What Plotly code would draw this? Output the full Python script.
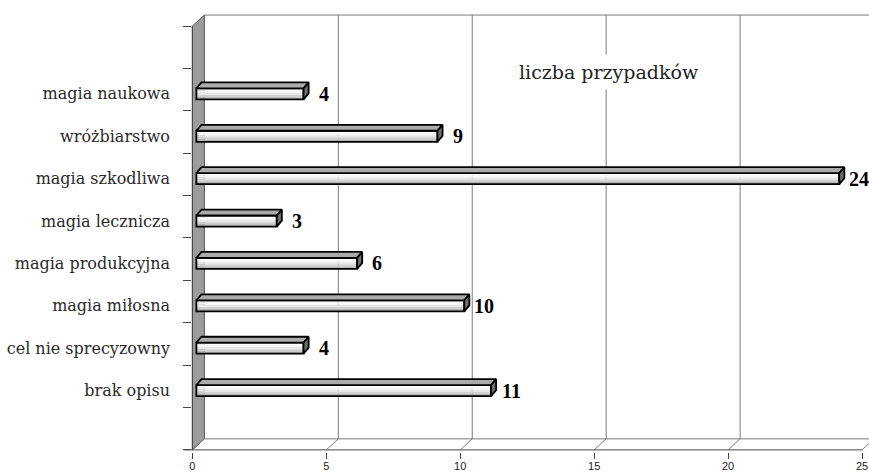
import plotly.graph_objects as go

# Categories listed bottom-to-top, with the number of cases in each
categories = [
    "brak opisu",
    "cel nie sprecyzowny",
    "magia miłosna",
    "magia produkcyjna",
    "magia lecznicza",
    "magia szkodliwa",
    "wróżbiarstwo",
    "magia naukowa",
]
values = [11, 4, 10, 6, 3, 24, 9, 4]
x_ticks = [0, 5, 10, 15, 20, 25]
series_name = "liczba przypadków"

# 3D geometry (data units)
WALL_DX, WALL_DY = 0.448, 0.26     # depth of the wall / floor
BAR_DX, BAR_DY = 0.19, 0.14        # depth of each bar
BAR_BASE = 0.15                    # bars start slightly inside the left wall
HALF_H = 0.13                      # half height of a bar's front face
N_SLOTS = 10
X_MIN = -0.35

slot_centers = [i + 1.5 for i in range(len(categories))]
face_centers = [c - 0.1 for c in slot_centers]

fig = go.Figure()

# front face: stacked strips for a vertical shading
strip_colors = ["#ffffff", "#f6f6f6", "#e6e6e6", "#d0d0d0", "#b4b4b4"]
n = len(strip_colors)
sh = 2 * HALF_H / n
for k, col in enumerate(strip_colors):
    fig.add_trace(go.Bar(
        y=face_centers, x=values, base=BAR_BASE, orientation="h",
        width=sh, offset=HALF_H - (k + 1) * sh,
        marker=dict(color=col, line=dict(width=0)),
        hoverinfo="skip", showlegend=False,
    ))
# front face outline
fig.add_trace(go.Bar(
    y=face_centers, x=values, base=BAR_BASE, orientation="h",
    width=2 * HALF_H, offset=-HALF_H,
    marker=dict(color="rgba(0,0,0,0)", line=dict(color="#000", width=1.8)),
    hoverinfo="skip", showlegend=False,
))

# top and end faces of each bar
top_x, top_y, end_x, end_y = [], [], [], []
for fc, v in zip(face_centers, values):
    x0, x1 = BAR_BASE, BAR_BASE + v
    yb, yt = fc - HALF_H, fc + HALF_H
    top_x += [x0, x1, x1 + BAR_DX, x0 + BAR_DX, x0, None]
    top_y += [yt, yt, yt + BAR_DY, yt + BAR_DY, yt, None]
    end_x += [x1, x1 + BAR_DX, x1 + BAR_DX, x1, x1, None]
    end_y += [yb, yb + BAR_DY, yt + BAR_DY, yt, yb, None]

fig.add_trace(go.Scatter(
    x=top_x, y=top_y, mode="lines", fill="toself", fillcolor="#ababab",
    line=dict(color="#000", width=1.8), hoverinfo="skip", showlegend=False,
))
fig.add_trace(go.Scatter(
    x=end_x, y=end_y, mode="lines", fill="toself", fillcolor="#6e6e6e",
    line=dict(color="#000", width=1.8), hoverinfo="skip", showlegend=False,
))

# carrier for the category label axis
fig.add_trace(go.Scatter(x=[0], y=[1], yaxis="y2", mode="markers",
                         marker=dict(opacity=0), hoverinfo="skip", showlegend=False))

# walls, floor and grid
shapes = []
grid = dict(color="#7a7a7a", width=1)
x_right = x_ticks[-1] + 1
# left wall
shapes.append(dict(
    type="path", xref="x", yref="y", layer="below",
    path=f"M 0 0 L {WALL_DX} {WALL_DY} L {WALL_DX} {N_SLOTS + WALL_DY} L 0 {N_SLOTS} Z",
    fillcolor="#9c9c9c", line=dict(color="#555", width=1),
))
# back wall top and floor back edge
shapes.append(dict(type="line", xref="x", yref="y", layer="below",
                   x0=WALL_DX, x1=x_right, y0=N_SLOTS + WALL_DY, y1=N_SLOTS + WALL_DY, line=grid))
shapes.append(dict(type="line", xref="x", yref="y", layer="below",
                   x0=WALL_DX, x1=x_right, y0=WALL_DY, y1=WALL_DY, line=grid))
# floor front edge
shapes.append(dict(type="line", xref="x", yref="y", layer="below",
                   x0=X_MIN + 0.02, x1=x_ticks[-1], y0=0, y1=0, line=dict(color="#444", width=1)))
for t in x_ticks:
    # back-wall gridline
    if t > 0:
        shapes.append(dict(type="line", xref="x", yref="y", layer="below",
                           x0=t + WALL_DX, x1=t + WALL_DX, y0=WALL_DY, y1=N_SLOTS + WALL_DY,
                           line=grid))
    # floor diagonal
    shapes.append(dict(type="line", xref="x", yref="y", layer="below",
                       x0=t, x1=t + WALL_DX, y0=0, y1=WALL_DY, line=grid))
# front vertical axis line
shapes.append(dict(type="line", xref="x", yref="y", layer="below",
                   x0=0, x1=0, y0=0, y1=N_SLOTS, line=dict(color="#444", width=1)))

annotations = []
for fc, v in zip(face_centers, values):
    annotations.append(dict(
        x=BAR_BASE + v + BAR_DX, y=fc, xref="x", yref="y",
        text=str(v), showarrow=False, xanchor="center", yanchor="middle", xshift=15,
        font=dict(family="Liberation Serif", size=20, color="#000", weight="bold"),
    ))
annotations.append(dict(
    x=15.56, y=8.915, xref="x", yref="y", text=series_name, showarrow=False,
    xanchor="center", yanchor="middle", bgcolor="#ffffff", borderpad=6,
    font=dict(family="DejaVu Serif", size=19, color="#222"),
))

y_range = [-0.05, N_SLOTS + 0.285]
fig.update_layout(
    width=869, height=473,
    margin=dict(l=183, r=0, t=14, b=21),
    paper_bgcolor="#ffffff", plot_bgcolor="#ffffff",
    barmode="overlay", showlegend=False,
    shapes=shapes, annotations=annotations,
    xaxis=dict(
        range=[X_MIN, 25.26], tickvals=x_ticks, ticktext=[str(t) for t in x_ticks],
        showgrid=False, zeroline=False, showline=False,
        ticks="outside", ticklen=6, tickcolor="#444",
        ticklabelstandoff=-2,
        tickfont=dict(family="Liberation Sans", size=11, color="#222"),
        automargin=False, fixedrange=True,
    ),
    yaxis=dict(
        range=y_range, tickvals=list(range(N_SLOTS + 1)), showticklabels=False,
        showgrid=False, zeroline=False, showline=False,
        ticks="inside", ticklen=8, tickcolor="#444",
        automargin=False, fixedrange=True,
    ),
    yaxis2=dict(
        overlaying="y", side="left", range=y_range,
        tickvals=face_centers, ticktext=categories, ticks="",
        ticklabelstandoff=12,
        showgrid=False, zeroline=False, showline=False,
        tickfont=dict(family="DejaVu Serif", size=16, color="#2a2a2a"),
        automargin=False, fixedrange=True,
    ),
)

fig.write_html("out.html")
